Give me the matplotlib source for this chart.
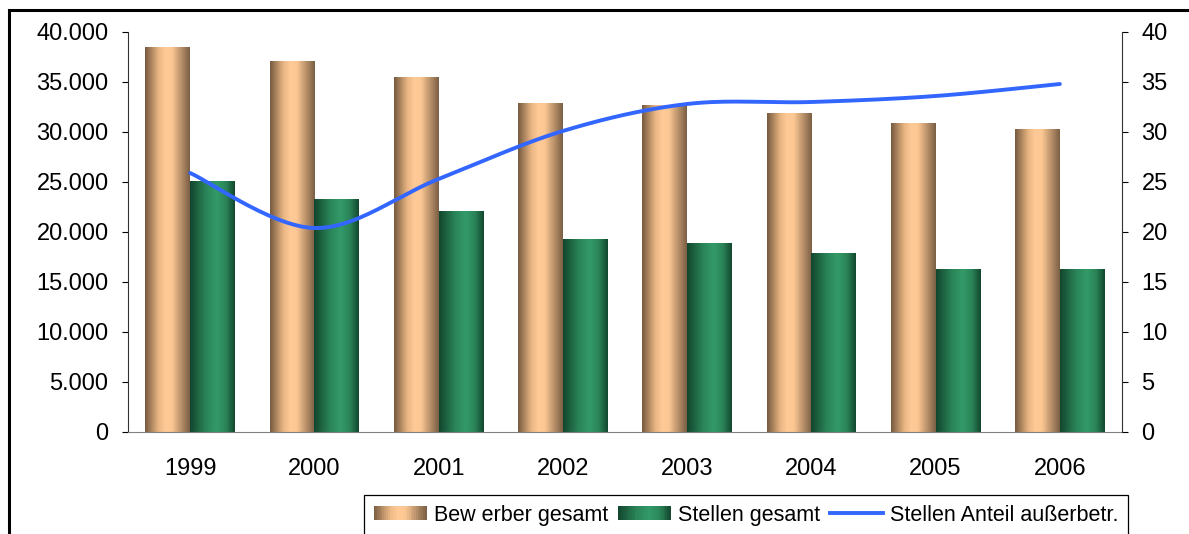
import numpy as np
import matplotlib
matplotlib.use('Agg')
from matplotlib import pyplot as plt
from matplotlib.colors import LinearSegmentedColormap
from matplotlib.patches import Rectangle
from matplotlib.lines import Line2D
from matplotlib.legend_handler import HandlerBase

years = ['1999', '2000', '2001', '2002', '2003', '2004', '2005', '2006']
bewerber = [38400, 37000, 35400, 32800, 32600, 31800, 30800, 30200]
stellen = [25000, 23200, 22000, 19200, 18800, 17800, 16200, 16200]
anteil = [25.9, 20.4, 25.3, 30.1, 32.8, 33.0, 33.6, 34.8]

plt.rcParams['font.family'] = ['Liberation Sans', 'DejaVu Sans']

orange_cmap = LinearSegmentedColormap.from_list(
    'orange', [(0, '#76593f'), (0.3, '#e9b683'), (0.45, '#ffca96'), (0.6, '#fcc793'), (1, '#7a5e44')])
green_cmap = LinearSegmentedColormap.from_list(
    'green', [(0, '#12452d'), (0.35, '#2a8458'), (0.6, '#339a6a'), (0.8, '#2a8458'), (1, '#13472e')])
grad = np.linspace(0, 1, 256).reshape(1, -1)


def gradient_bars(ax, bars, cmap):
    for b in bars:
        x0, y0 = b.get_x(), b.get_y()
        ax.imshow(grad, extent=[x0, x0 + b.get_width(), y0, y0 + b.get_height()],
                  aspect='auto', cmap=cmap, zorder=2, interpolation='bicubic')
        b.set_visible(False)


class GradientHandler(HandlerBase):
    def __init__(self, cmap):
        super().__init__()
        self.cmap = cmap

    def create_artists(self, legend, orig_handle, xdescent, ydescent, width, height, fontsize, trans):
        n = 30
        arts = []
        for i in range(n):
            r = Rectangle((-xdescent + width * i / n, -ydescent), width / n + 0.3, height,
                          facecolor=self.cmap((i + 0.5) / n), edgecolor='none', transform=trans)
            arts.append(r)
        return arts


def catmull_rom(xs, ys, steps=30):
    pts = np.column_stack([xs, ys]).astype(float)
    pts = np.vstack([pts[0], pts, pts[-1]])
    out = []
    for i in range(1, len(pts) - 2):
        p0, p1, p2, p3 = pts[i - 1], pts[i], pts[i + 1], pts[i + 2]
        for t in np.linspace(0, 1, steps, endpoint=False):
            t2, t3 = t * t, t * t * t
            out.append(0.5 * (2 * p1 + (-p0 + p2) * t + (2 * p0 - 5 * p1 + 4 * p2 - p3) * t2
                              + (-p0 + 3 * p1 - 3 * p2 + p3) * t3))
    out.append(pts[-2])
    out = np.array(out)
    return out[:, 0], out[:, 1]


fig = plt.figure(figsize=(11.89, 5.34), dpi=100)
ax = fig.add_axes([128 / 1189, 1 - 432 / 534, (1122 - 128) / 1189, 400 / 534])

x = np.arange(len(years))
w = 0.36
b1 = ax.bar(x - w / 2, bewerber, w)
b2 = ax.bar(x + w / 2, stellen, w)
gradient_bars(ax, b1, orange_cmap)
gradient_bars(ax, b2, green_cmap)

ax.set_xlim(-0.5, len(years) - 0.5)
ax.set_ylim(0, 40000)
ax.set_yticks(range(0, 40001, 5000))
ax.set_yticklabels([f'{v:,}'.replace(',', '.') for v in range(0, 40001, 5000)])
ax.set_xticks(x)
ax.set_xticklabels(years)
ax.tick_params(axis='x', length=0, pad=19, labelsize=17)
ax.tick_params(axis='y', length=4, width=0.8, pad=10, labelsize=17)
ax.spines['top'].set_visible(False)
ax.spines['right'].set_visible(False)
ax.spines['bottom'].set_color('#808080')
ax.spines['left'].set_color('#333333')

ax2 = ax.twinx()
lx, ly = catmull_rom(x, anteil)
ax2.plot(lx, ly, color='#3366ff', linewidth=2.8, solid_capstyle='round', zorder=5)
ax2.set_ylim(0, 40)
ax2.set_yticks(range(0, 41, 5))
ax2.tick_params(axis='y', length=4, width=0.8, pad=10, labelsize=17)
for s in ['top', 'left', 'bottom']:
    ax2.spines[s].set_visible(False)
ax2.spines['right'].set_color('#333333')

# outer frame (cut off at right and bottom)
fig.patches.append(Rectangle((9 / 1189, -0.1), 1.2, 1 - 10 / 534 + 0.1, transform=fig.transFigure,
                             fill=False, edgecolor='black', linewidth=2.2))

h1 = Rectangle((0, 0), 1, 1)
h2 = Rectangle((0, 0), 1, 1)
h3 = Line2D([], [], color='#3366ff', linewidth=2.8)
leg = fig.legend([h1, h2, h3], ['Bew erber gesamt', 'Stellen gesamt', 'Stellen Anteil außerbetr.'],
                 ncol=3, loc='upper left', bbox_to_anchor=(364 / 1189, 1 - 495 / 534),
                 frameon=True, fancybox=False, edgecolor='black', framealpha=1,
                 handler_map={h1: GradientHandler(orange_cmap), h2: GradientHandler(green_cmap)},
                 prop={'size': 15.5}, borderaxespad=0,
                 handlelength=2.45, handleheight=0.6, handletextpad=0.35, columnspacing=0.45,
                 borderpad=0.45)
leg.get_frame().set_linewidth(0.9)

plt.savefig('out.png', dpi=100)
